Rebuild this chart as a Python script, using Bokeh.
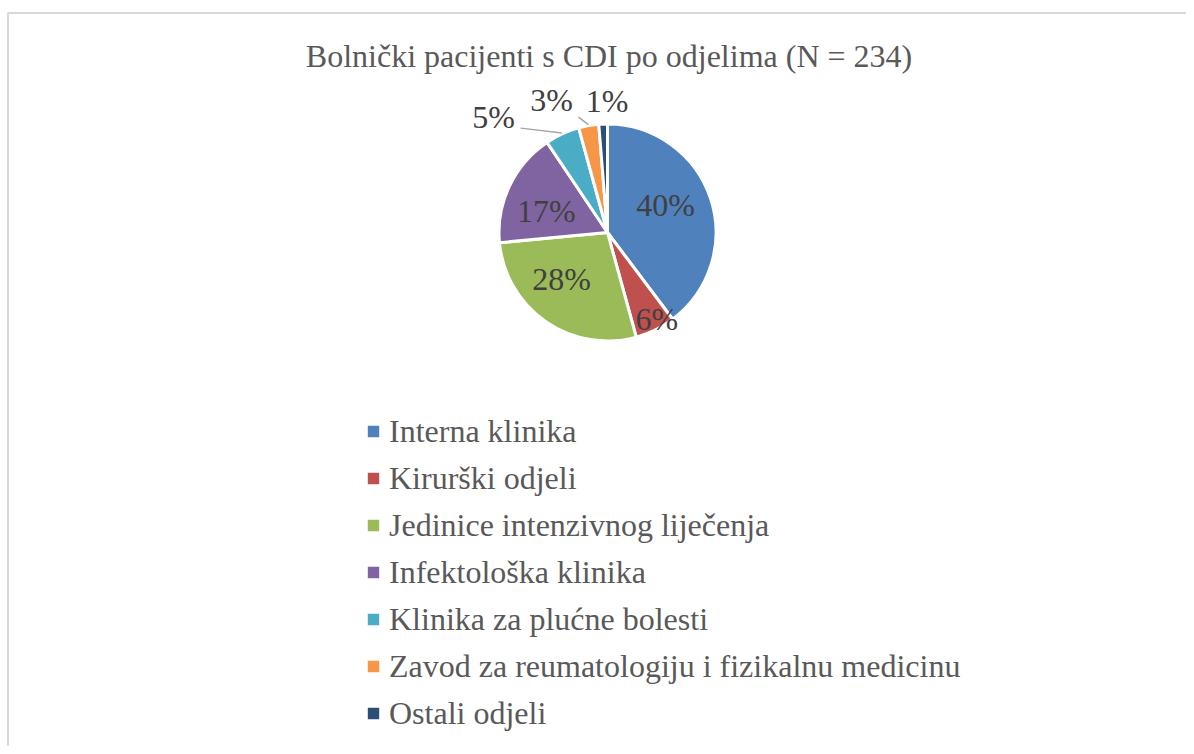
import numpy as np
from bokeh.plotting import figure
from bokeh.models import ColumnDataSource, Range1d, Legend, LegendItem
from bokeh.embed import file_html
from bokeh.resources import INLINE
from bokeh.core.properties import value

# ---------------- data ----------------
title_text = "Bolnički pacijenti s CDI po odjelima (N = 234)"
categories = [
    "Interna klinika",
    "Kirurški odjeli",
    "Jedinice intenzivnog liječenja",
    "Infektološka klinika",
    "Klinika za plućne bolesti",
    "Zavod za reumatologiju i fizikalnu medicinu",
    "Ostali odjeli",
]
counts = [93, 14, 65, 40, 12, 7, 3]
colors = ["#4F81BD", "#C0504D", "#9BBB59", "#8064A2", "#4BACC6", "#F79646", "#2C4D75"]

# ---------------- layout ----------------
W, H = 1186, 746
FONT = "Liberation Serif"
cx, cy, R = 607.0, 514.0, 108.5
# label placement (polar, relative to pie centre): angle in degrees, radius in px
label_ang = [25.0, -60.4, -134.5, 160.9, 134.5, 113.0, 90.2]
label_rad = [64.0, 100.0, 65.6, 64.8, 162.6, 143.4, 132.0]
# leader lines for outside labels: (index, start offset from label centre)
leaders = [(4, (27.0, -11.6)), (5, (27.0, -16.7))]

counts_arr = np.array(counts, dtype=float)
N = counts_arr.sum()
frac = counts_arr / N
cum = np.concatenate([[0.0], np.cumsum(frac)])
start = np.pi / 2 - 2 * np.pi * cum[:-1]
end = np.pi / 2 - 2 * np.pi * cum[1:]
mid = (start + end) / 2
pct = [f"{int(round(100 * f))}%" for f in frac]

src = ColumnDataSource(dict(cat=categories, start=start, end=end, color=colors))

p = figure(width=W, height=H, x_range=Range1d(0, W), y_range=Range1d(0, H),
           output_backend="svg", toolbar_location=None,
           x_axis_type=None, y_axis_type=None, min_border=0)
p.grid.visible = False
p.outline_line_color = None
p.background_fill_color = "white"

# chart area border (left and top visible)
p.segment(x0=[7.5, 7], y0=[0, 733.5], x1=[7.5, W], y1=[733.5, 733.5],
          line_color="#D9D9D9", line_width=2)

wedges = p.wedge(x=cx, y=cy, radius=R, start_angle="start", end_angle="end",
                 direction="clock", fill_color="color", line_color="white",
                 line_width=3, source=src)

# leader lines
lx0, ly0, lx1, ly1 = [], [], [], []
for i, (ox, oy) in leaders:
    a = np.deg2rad(label_ang[i])
    tx = cx + label_rad[i] * np.cos(a)
    ty = cy + label_rad[i] * np.sin(a)
    lx0.append(tx + ox)
    ly0.append(ty + oy)
    lx1.append(cx + (R + 1) * np.cos(mid[i]))
    ly1.append(cy + (R + 1) * np.sin(mid[i]))
p.segment(x0=lx0, y0=ly0, x1=lx1, y1=ly1, line_color="#A6A6A6", line_width=1.5)

# percentage labels
la = np.deg2rad(label_ang)
lab_x = cx + np.array(label_rad) * np.cos(la)
lab_y = cy + np.array(label_rad) * np.sin(la)
p.text(x=lab_x, y=lab_y, text=pct, text_font=value(FONT), text_font_size="32px",
       text_align="center", text_baseline="middle", text_color="#404040")

# title
p.text(x=[608.5], y=[691], text=[title_text], text_font=value(FONT),
       text_font_size="32px", text_align="center", text_baseline="middle",
       text_color="#595959")

legend = Legend(
    items=[LegendItem(label=categories[i], renderers=[wedges], index=i) for i in range(len(categories))],
    location=(364, 13),
    orientation="vertical",
    label_text_font=FONT,
    label_text_font_size="32px",
    label_text_color="#595959",
    glyph_width=18,
    glyph_height=18,
    label_standoff=7,
    label_height=40,
    spacing=7,
    padding=0,
    margin=0,
    border_line_color=None,
    background_fill_alpha=0,
)
p.add_layout(legend)

open("out.html", "w").write(file_html(p, INLINE))
